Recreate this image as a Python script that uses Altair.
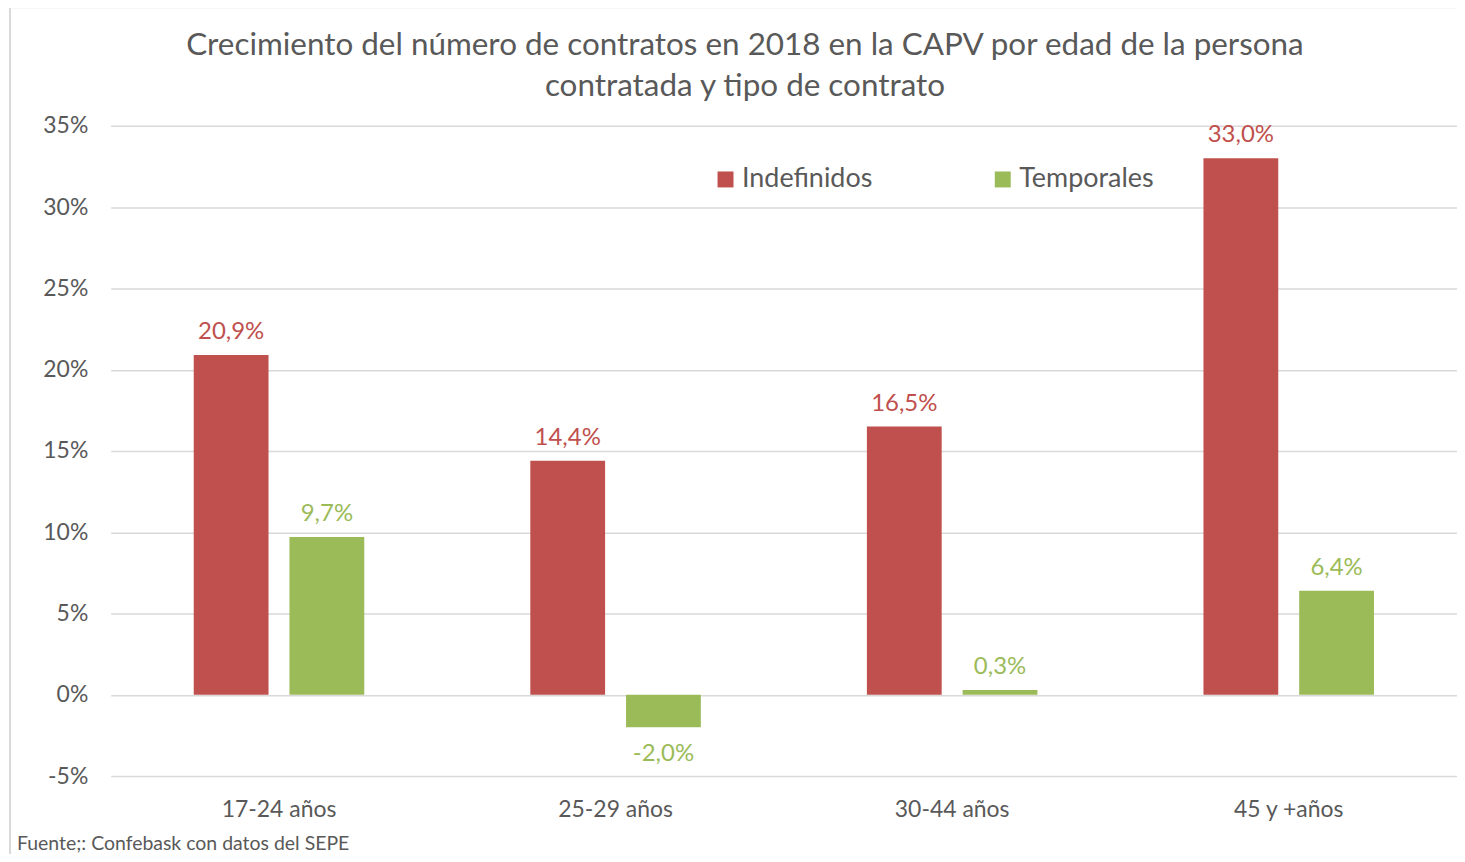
import altair as alt
import pandas as pd

categorias = ["17-24 años", "25-29 años", "30-44 años", "45 y +años"]
series = ["Indefinidos", "Temporales"]
indefinidos = [20.9, 14.4, 16.5, 33.0]
temporales = [9.7, -2.0, 0.3, 6.4]
colores = ["#C0504D", "#9BBB59"]
y_ticks = [-5, 0, 5, 10, 15, 20, 25, 30, 35]
titulo = "Crecimiento del número de contratos en 2018 en la CAPV por edad de la persona\ncontratada y tipo de contrato"
fuente = "Fuente;: Confebask con datos del SEPE"

rows = []
for i, c in enumerate(categorias):
    rows.append({"cat": c, "serie": series[0], "v": indefinidos[i]})
    rows.append({"cat": c, "serie": series[1], "v": temporales[i]})
df = pd.DataFrame(rows)

FONT = "Lato"
GRAY = "#595959"
GRID = "#D9D9D9"

x = alt.X("cat:N", sort=categorias,
          scale=alt.Scale(paddingInner=0, paddingOuter=0),
          axis=alt.Axis(title=None, labelAngle=0, labelFontSize=23, labelColor=GRAY,
                        labelFont=FONT, labelPadding=23, grid=False))
xo = alt.XOffset("serie:N", sort=series,
                 scale=alt.Scale(paddingInner=0.21875, paddingOuter=0.8672))
y = alt.Y("v:Q", scale=alt.Scale(domain=[-5, 35], nice=False),
          axis=alt.Axis(title=None, values=y_ticks, labelExpr="datum.value + '%'",
                        labelFontSize=23, labelColor=GRAY, labelFont=FONT,
                        labelPadding=23, grid=True))
color_leg = alt.Color("serie:N", sort=series,
                      scale=alt.Scale(domain=series, range=colores),
                      legend=alt.Legend(title=None, orient="none", direction="horizontal",
                                        legendX=603, legendY=40, symbolType="square",
                                        symbolSize=256, symbolStrokeWidth=0,
                                        labelFontSize=27, labelFont=FONT, labelColor=GRAY,
                                        labelOffset=3, columnPadding=117, labelLimit=400))
color_nl = alt.Color("serie:N", sort=series,
                     scale=alt.Scale(domain=series, range=colores), legend=None)

base = alt.Chart(df).transform_calculate(
    lab="replace(replace(format(datum.v, '.1f'), '.', ','), '\u2212', '-') + '%'")

bars = base.mark_bar().encode(x=x, xOffset=xo, y=y, color=color_leg)

txt_pos = base.transform_filter("datum.v >= 0").mark_text(
    dy=-23, baseline="middle", fontSize=24, font=FONT).encode(
    x=x, xOffset=xo, y=y, text="lab:N", color=color_nl)
txt_neg = base.transform_filter("datum.v < 0").mark_text(
    dy=27, baseline="middle", fontSize=24, font=FONT).encode(
    x=x, xOffset=xo, y=y, text="lab:N", color=color_nl)

one = pd.DataFrame({"t": [fuente], "h": [titulo]})
title_mark = alt.Chart(one).mark_text(align="center", baseline="middle", fontSize=31.5,
                                      font=FONT, color=GRAY, lineBreak="\n",
                                      lineHeight=41).encode(
    x=alt.value(636), y=alt.value(-80), text="h:N")
foot = alt.Chart(one).mark_text(align="left", baseline="middle", fontSize=19.5,
                                font=FONT, color=GRAY).encode(
    x=alt.value(-94), y=alt.value(720), text="t:N")
border_top = alt.Chart(one).mark_rule(color=GRID, strokeWidth=2).encode(
    x=alt.value(-101), x2=alt.value(1360), y=alt.value(-119))
border_left = alt.Chart(one).mark_rule(color=GRID, strokeWidth=2).encode(
    x=alt.value(-101), y=alt.value(-119), y2=alt.value(760))

chart = alt.layer(border_top, border_left, title_mark, bars, txt_pos, txt_neg, foot).properties(
    width=1350, height=652,
    autosize=alt.AutoSizeParams(type="none"),
    padding={"left": 103, "top": 117, "right": 0, "bottom": 77},
).configure_view(stroke=None).configure_axis(
    gridColor=GRID, gridWidth=1.5, domain=False, ticks=False)

chart.save("out.html", embed_options={"renderer": "svg", "actions": False})
